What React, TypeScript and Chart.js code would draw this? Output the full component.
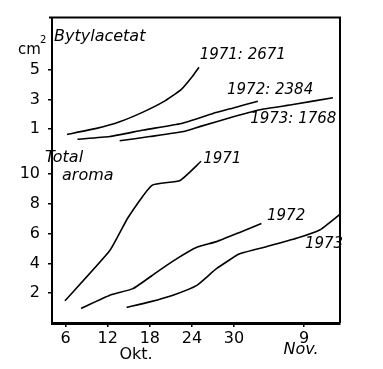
import React, { useEffect, useRef } from 'react';
import { Chart, registerables } from 'chart.js';

Chart.register(...registerables);

// x values are days counted from 1 October (Nov 9 = day 40)
const xTickDays = [6, 12, 18, 24, 30, 40];
const xTickLabels = ['6', '12', '18', '24', '30', '9'];

const topTicks = [1, 3, 5];
const bottomTicks = [2, 4, 6, 8, 10];

// Butylacetat (cm²)
const butylDays1971 = [6.2, 10.4, 13.7, 17.1, 19.9, 22.5, 24.0, 25.0];
const butyl1971 = [0.61, 1.02, 1.47, 2.15, 2.83, 3.69, 4.53, 5.2];
const butylDays1972 = [7.7, 12.3, 17.1, 22.5, 27.0, 29.9, 33.4];
const butyl1972 = [0.27, 0.46, 0.91, 1.36, 2.04, 2.42, 2.88];
const butylDays1973 = [13.7, 18.0, 22.8, 25.1, 29.9, 34.2, 38.4, 44.1];
const butyl1973 = [0.17, 0.46, 0.8, 1.14, 1.81, 2.34, 2.65, 3.12];

// Total aroma
const aromaDays1971 = [5.9, 12.3, 14.9, 18.3, 22.3, 25.3];
const aroma1971 = [1.49, 4.87, 7.09, 9.25, 9.58, 10.87];
const aromaDays1972 = [8.2, 12.3, 15.6, 19.0, 21.8, 24.7, 27.5, 30.8, 33.9];
const aroma1972 = [0.98, 1.87, 2.31, 3.42, 4.31, 5.09, 5.47, 6.09, 6.69];
const aromaDays1973 = [14.7, 18.0, 21.3, 24.7, 27.5, 30.8, 34.6, 38.9, 42.2, 45.1];
const aroma1973 = [1.05, 1.42, 1.87, 2.53, 3.65, 4.65, 5.13, 5.69, 6.25, 7.31];

// series labels (text, anchor day, anchor value, scale)
const labelTexts = ['1971: 2671', '1972: 2384', '1973: 1768', '1971', '1972', '1973'];
const labelDays = [25.1, 29.0, 32.3, 25.6, 34.7, 40.1];
const labelValues = [6.0, 3.63, 1.68, 11.0, 7.2, 5.33];
const labelScales = ['yTop', 'yTop', 'yTop', 'yBottom', 'yBottom', 'yBottom'];

const pts = (xs: number[], ys: number[]) => xs.map((x, i) => ({ x, y: ys[i] }));

const INK = '#000';
const HAND = '"DejaVu Sans", "Liberation Sans", sans-serif';

const sketchPlugin = {
  id: 'sketch',
  afterDraw(chart: any) {
    const { ctx, chartArea, scales } = chart;
    ctx.save();
    ctx.strokeStyle = INK;
    ctx.lineWidth = 2;
    ctx.beginPath();
    ctx.moveTo(chartArea.left - 3, chartArea.top);
    ctx.lineTo(chartArea.right, chartArea.top);
    ctx.lineTo(chartArea.right, chartArea.bottom);
    ctx.stroke();

    ctx.fillStyle = INK;
    ctx.textBaseline = 'middle';
    ctx.textAlign = 'left';
    ctx.font = `italic 15px ${HAND}`;
    labelTexts.forEach((t, i) => {
      const x = scales.x.getPixelForValue(labelDays[i]);
      const y = scales[labelScales[i]].getPixelForValue(labelValues[i]);
      ctx.fillText(t, x, y);
    });

    ctx.font = `15px ${HAND}`;
    ctx.fillText('cm', 18, 50);
    ctx.font = `10px ${HAND}`;
    ctx.fillText('2', 40, 40);
    ctx.font = `italic 16px ${HAND}`;
    ctx.fillText('Bytylacetat', 54, 37);
    ctx.fillText('Total', 45, 158);
    ctx.fillText('aroma', 62, 176);
    ctx.font = `16px ${HAND}`;
    ctx.textAlign = 'center';
    ctx.fillText('Okt.', 136, 355);
    ctx.font = `italic 16px ${HAND}`;
    ctx.fillText('Nov.', 301, 350);
    ctx.restore();
  },
};

export default function App() {
  const ref = useRef<HTMLCanvasElement>(null);

  useEffect(() => {
    const line = (data: any[], yAxisID: string) => ({
      data,
      yAxisID,
      borderColor: INK,
      borderWidth: 1.6,
      pointRadius: 0,
      tension: 0.15,
      fill: false,
    });
    const chart = new Chart(ref.current!, {
      type: 'line',
      data: {
        datasets: [
          line(pts(aromaDays1971, aroma1971), 'yBottom'),
          line(pts(aromaDays1972, aroma1972), 'yBottom'),
          line(pts(aromaDays1973, aroma1973), 'yBottom'),
          line(pts(butylDays1971, butyl1971), 'yTop'),
          line(pts(butylDays1972, butyl1972), 'yTop'),
          line(pts(butylDays1973, butyl1973), 'yTop'),
        ],
      },
      options: {
        animation: false,
        responsive: false,
        layout: { padding: { top: 15, right: 43, left: 0, bottom: 0 } },
        plugins: { legend: { display: false }, tooltip: { enabled: false } },
        scales: {
          x: {
            type: 'linear',
            min: 4.06,
            max: 45.1,
            afterFit: (s: any) => { s.height = 46; },
            afterBuildTicks: (s: any) => { s.ticks = xTickDays.map((v) => ({ value: v })); },
            ticks: {
              color: INK,
              padding: 2,
              font: { size: 16, family: HAND },
              callback: (v: any) => xTickLabels[xTickDays.indexOf(Number(v))] ?? '',
            },
            grid: { drawOnChartArea: false, color: INK, tickLength: 4, lineWidth: 1.5 },
            border: { color: INK, width: 3 },
          },
          yBottom: {
            type: 'linear',
            position: 'left',
            stack: 'panels',
            stackWeight: 181.25,
            min: 0,
            max: 12.08,
            afterFit: (s: any) => { s.width = 52; },
            afterBuildTicks: (s: any) => { s.ticks = bottomTicks.map((v) => ({ value: v })); },
            ticks: { color: INK, padding: 8, font: { size: 16, family: HAND } },
            grid: { drawOnChartArea: false, color: INK, tickLength: 4, lineWidth: 1.5 },
            border: { color: INK, width: 2 },
          },
          yTop: {
            type: 'linear',
            position: 'left',
            stack: 'panels',
            stackWeight: 126.75,
            min: 0,
            max: 8.6,
            afterFit: (s: any) => { s.width = 52; },
            afterBuildTicks: (s: any) => { s.ticks = topTicks.map((v) => ({ value: v })); },
            ticks: { color: INK, padding: 8, font: { size: 16, family: HAND } },
            grid: { drawOnChartArea: false, color: INK, tickLength: 4, lineWidth: 1.5 },
            border: { color: INK, width: 2 },
          },
        },
      },
      plugins: [sketchPlugin],
    });
    return () => chart.destroy();
  }, []);

  return (
    <div style={{ position: 'fixed', left: 0, top: 0, width: 383, height: 369, background: '#fff' }}>
      <canvas ref={ref} width={383} height={369} />
    </div>
  );
}
